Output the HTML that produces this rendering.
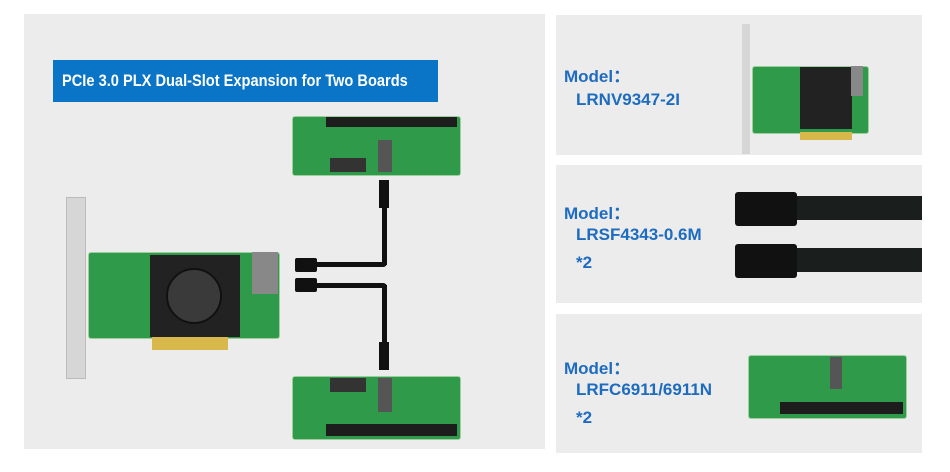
<!DOCTYPE html>
<html><head><meta charset="utf-8"><style>
body{margin:0;width:950px;height:472px;background:#fff;position:relative;overflow:hidden;font-family:"Liberation Sans",sans-serif}
.p{position:absolute;background:#ececec}
.a{position:absolute}
.t{position:absolute;color:#1d6cc0;font-weight:bold;font-size:17px;white-space:nowrap}
.pcb{position:absolute;background:#2f9a4a;border:1px solid #9ccf9c;border-radius:3px}
.slot{position:absolute;background:#1d1d1d}
.cab{position:absolute;background:#111}
</style></head><body>
<div class="p" style="left:24px;top:14px;width:521px;height:435px"></div>
<div class="p" style="left:556px;top:15px;width:366px;height:140px"></div>
<div class="p" style="left:556px;top:165px;width:366px;height:138px"></div>
<div class="p" style="left:556px;top:314px;width:366px;height:139px"></div>

<div class="a" style="left:53px;top:60px;width:385px;height:42px;background:#0a74c6;color:#fff;font-size:17px;font-weight:bold;line-height:42px;white-space:nowrap;overflow:hidden"><span style="display:inline-block;transform:scaleX(0.86);transform-origin:0 50%;margin-left:9px">PCIe 3.0 PLX Dual-Slot Expansion for Two Boards</span></div>

<!-- top riser -->
<div class="pcb" style="left:292px;top:116px;width:167px;height:58px"></div>
<div class="slot" style="left:326px;top:117px;width:131px;height:10px"></div>
<div class="a" style="left:378px;top:140px;width:14px;height:32px;background:#555"></div>
<div class="a" style="left:330px;top:158px;width:36px;height:14px;background:#333"></div>
<!-- bottom riser -->
<div class="pcb" style="left:292px;top:376px;width:167px;height:62px"></div>
<div class="slot" style="left:326px;top:424px;width:131px;height:12px"></div>
<div class="a" style="left:378px;top:378px;width:14px;height:34px;background:#555"></div>
<div class="a" style="left:330px;top:378px;width:36px;height:14px;background:#333"></div>

<!-- cables -->
<div class="cab" style="left:379px;top:180px;width:10px;height:28px"></div>
<div class="cab" style="left:382px;top:205px;width:5px;height:60px"></div>
<div class="cab" style="left:316px;top:262px;width:71px;height:5px;border-radius:0 0 4px 0"></div>
<div class="cab" style="left:295px;top:258px;width:22px;height:14px;border-radius:2px"></div>
<div class="cab" style="left:316px;top:283px;width:71px;height:5px;border-radius:0 4px 0 0"></div>
<div class="cab" style="left:295px;top:278px;width:22px;height:14px;border-radius:2px"></div>
<div class="cab" style="left:382px;top:285px;width:5px;height:60px"></div>
<div class="cab" style="left:379px;top:342px;width:10px;height:28px"></div>

<!-- main card -->
<div class="a" style="left:66px;top:197px;width:18px;height:180px;background:#d6d6d6;border:1px solid #bbb"></div>
<div class="pcb" style="left:88px;top:252px;width:190px;height:85px"></div>
<div class="a" style="left:150px;top:255px;width:90px;height:82px;background:#222"></div>
<div class="a" style="left:166px;top:268px;width:52px;height:52px;border-radius:50%;background:#3a3a3a;border:2px solid #111"></div>
<div class="a" style="left:252px;top:252px;width:26px;height:42px;background:#888"></div>
<div class="a" style="left:152px;top:337px;width:76px;height:13px;background:#d8b84a"></div>

<div class="t" style="left:564px;top:62px">Model：</div>
<div class="t" style="left:576px;top:90px">LRNV9347-2I</div>
<div class="t" style="left:564px;top:199px">Model：</div>
<div class="t" style="left:576px;top:225px">LRSF4343-0.6M</div>
<div class="t" style="left:576px;top:253px">*2</div>
<div class="t" style="left:564px;top:354px">Model：</div>
<div class="t" style="left:576px;top:380px">LRFC6911/6911N</div>
<div class="t" style="left:576px;top:408px">*2</div>

<!-- right images -->
<div class="a" style="left:742px;top:24px;width:8px;height:130px;background:#d6d6d6"></div>
<div class="pcb" style="left:752px;top:66px;width:115px;height:66px"></div>
<div class="a" style="left:800px;top:67px;width:52px;height:62px;background:#222"></div>
<div class="a" style="left:851px;top:66px;width:12px;height:30px;background:#888"></div>
<div class="a" style="left:800px;top:132px;width:52px;height:8px;background:#d8b84a"></div>

<div class="cab" style="left:735px;top:192px;width:62px;height:34px;border-radius:3px"></div>
<div class="cab" style="left:797px;top:196px;width:125px;height:24px;background:#1a1f1e"></div>
<div class="cab" style="left:735px;top:244px;width:62px;height:34px;border-radius:3px"></div>
<div class="cab" style="left:797px;top:248px;width:125px;height:24px;background:#1a1f1e"></div>

<div class="pcb" style="left:748px;top:355px;width:157px;height:62px"></div>
<div class="slot" style="left:780px;top:402px;width:123px;height:12px"></div>
<div class="a" style="left:830px;top:357px;width:12px;height:32px;background:#555"></div>
</body></html>
